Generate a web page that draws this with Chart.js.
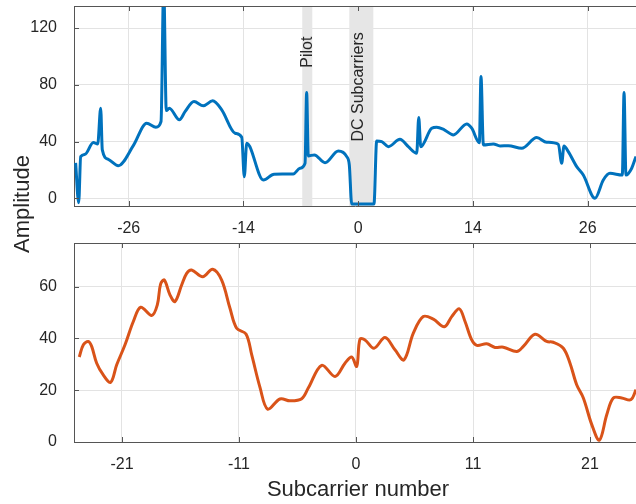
<!DOCTYPE html>
<html>
<head>
<meta charset="utf-8">
<script src="https://cdn.jsdelivr.net/npm/chart.js@4.4.1/dist/chart.umd.min.js"></script>
<style>
  html, body { margin: 0; padding: 0; background: #fff; }
  #wrap { position: relative; width: 636px; height: 504px; overflow: hidden; }
  #wrap canvas { position: absolute; left: 0; top: 0; }
</style>
</head>
<body>
<div id="wrap">
  <canvas id="topChart" width="636" height="504"></canvas>
  <canvas id="bottomChart" width="636" height="504"></canvas>
</div>
<script>
// top panel: 64-subcarrier amplitude with pilot / DC regions
const topX = [-29.55, -29.23, -29.02, -28.57, -27.7, -27.24, -26.93, -26.76, -26.13, -25.09,
  -23.52, -22.12, -21.15, -20.62, -20.34, -20.07, -19.75, -18.7, -18.11, -17.17,
  -16.2, -15.22, -14.27, -12.88, -12.18, -11.91, -11.66, -9.92, -8.8, -6.79,
  -6.09, -5.56, -5.39, -5.22, -4.59, -3.47, -2.08, -1.2, -0.93, -0.68,
  1.65, 1.93, 2.46, 3.15, 4.37, 5.24, 6.12, 6.33, 6.54, 7.69,
  8.2, 9.0, 9.95, 11.35, 11.87, 12.67, 12.84, 13.09, 14.13, 14.83,
  15.7, 17.1, 18.67, 19.71, 20.93, 21.28, 21.52, 21.97, 22.85, 23.54,
  24.76, 25.63, 26.33, 27.62, 27.8, 28.0, 28.6, 29.05, 29.6];
const topY = [25, -3.1, 29.4, 31, 39.3, 38.3, 63.5, 34.1, 27.5, 23,
  37.1, 52.9, 50.1, 54.1, 150, 61.8, 63.5, 55.3, 61.1, 68.2,
  65.2, 68.7, 62.3, 45.9, 43.1, 15.2, 38.8, 12.9, 17.0, 17.2,
  21.2, 24.7, 74.5, 29.9, 30.6, 25.1, 33.4, 29.4, 23.5, -4,
  -4, 40.4, 40, 36.4, 41.6, 36.4, 31.8, 56.9, 36.4, 49.4,
  50.1, 48.3, 44.7, 52.4, 49.4, 39.2, 85.8, 37.6, 38.3, 36.9,
  37.1, 35.3, 42.8, 39.5, 38.1, 24.7, 36.9, 32.9, 22.3, 16.4,
  0, 12.9, 17.6, 16.4, 74.5, 16.4, 21.2, 29.4, 36];
const topTickPos = [-24, -12, 0, 12, 24];
const topTickLabels = ['-26', '-14', '0', '14', '26'];
const topYTicks = [0, 40, 80, 120];

const bandRanges = [[-5.85, -4.8], [-0.93, 1.58]];
const bandLabels = ['Pilot', 'DC Subcarriers'];
const bandLabelX = [-5.33, 0];
const bandLabelY = [92, 40];

// bottom panel: 52 data subcarriers
const botX = [-23.65, -23.3, -22.88, -22.59, -22.16, -21.6, -20.97, -20.45, -19.74, -19.03,
  -18.4, -17.46, -16.98, -16.7, -16.38, -15.9, -15.47, -14.9, -14.47, -14.05,
  -13.1, -12.25, -11.48, -10.77, -10.2, -9.4, -8.91, -8.2, -7.55, -6.5,
  -5.64, -4.64, -4.08, -2.93, -1.79, -0.94, -0.37, 0.06, 0.34, 0.77,
  1.54, 2.48, 3.33, 4.1, 4.9, 5.75, 6.61, 7.55, 8.18, 8.83,
  9.32, 9.89, 10.32, 11.17, 11.88, 12.59, 13.74, 14.3, 15.3, 16.3,
  16.86, 17.72, 18.29, 18.86, 19.43, 20.15, 20.8, 21.43, 21.99, 22.71,
  23.48, 23.93, 24.4];
const botY = [32.8, 37.5, 38.8, 36.9, 30.4, 25.9, 23, 29.8, 37.5, 46.5,
  52, 48.8, 52.9, 60.9, 62.5, 56.8, 54.2, 60.6, 65.1, 66.4,
  63.8, 66.7, 62.5, 51.6, 43.9, 41.7, 33.6, 21, 12.7, 16.6,
  15.9, 16.7, 20.8, 29.6, 25.3, 30.4, 32.8, 29.2, 39.7, 39.4,
  36.2, 40.3, 35.6, 31.7, 42, 48.4, 47.4, 44.5, 48.4, 51.4,
  46.5, 39.4, 37.3, 37.9, 36.5, 36.6, 34.9, 36.9, 41.6, 38.8,
  38.5, 36.2, 30.4, 22.1, 17, 6.7, 0.7, 10.5, 17, 17,
  16.3, 20.2, 25];
const botTickPos = [-20, -10, 0, 10, 20];
const botTickLabels = ['-21', '-11', '0', '11', '21'];
const botYTicks = [0, 20, 40, 60];

const FONT = "'Liberation Sans', Arial, Helvetica, sans-serif";
const TEXT = '#262626';
const GRID = '#e3e3e3';
const AXIS = '#555555';
Chart.defaults.font.family = FONT;
Chart.defaults.color = TEXT;

const frame = {
  id: 'frame',
  afterDraw(chart) {
    const { ctx, chartArea: a, scales: { x, y } } = chart;
    ctx.save();
    ctx.strokeStyle = AXIS;
    ctx.lineWidth = 1;
    ctx.beginPath();
    ctx.moveTo(a.left, Math.round(a.top) + 0.5);
    ctx.lineTo(a.right, Math.round(a.top) + 0.5);
    x.ticks.forEach(t => {
      const px = Math.round(x.getPixelForValue(t.value)) + 0.5;
      ctx.moveTo(px, a.bottom); ctx.lineTo(px, a.bottom - 5);
      ctx.moveTo(px, a.top); ctx.lineTo(px, a.top + 5);
    });
    y.ticks.forEach(t => {
      const py = Math.round(y.getPixelForValue(t.value)) + 0.5;
      ctx.moveTo(a.left, py); ctx.lineTo(a.left + 5, py);
    });
    ctx.stroke();
    ctx.restore();
  }
};

const bands = {
  id: 'bands',
  beforeDatasetsDraw(chart) {
    const { ctx, chartArea: a, scales: { x } } = chart;
    ctx.save();
    ctx.fillStyle = '#e6e6e6';
    bandRanges.forEach(([s, e]) => {
      const x0 = x.getPixelForValue(s), x1 = x.getPixelForValue(e);
      ctx.fillRect(x0, a.top, x1 - x0, a.bottom - a.top);
    });
    ctx.restore();
  },
  afterDatasetsDraw(chart) {
    const { ctx, scales: { x, y } } = chart;
    ctx.save();
    ctx.fillStyle = TEXT;
    ctx.font = '16px ' + FONT;
    ctx.textAlign = 'left';
    ctx.textBaseline = 'middle';
    bandLabels.forEach((txt, i) => {
      ctx.save();
      ctx.translate(x.getPixelForValue(bandLabelX[i]), y.getPixelForValue(bandLabelY[i]));
      ctx.rotate(-Math.PI / 2);
      ctx.fillText(txt, 0, 0);
      ctx.restore();
    });
    ctx.restore();
  }
};

const titles = {
  id: 'titles',
  afterDraw(chart) {
    const { ctx } = chart;
    ctx.save();
    ctx.fillStyle = TEXT;
    ctx.font = '22px ' + FONT;
    ctx.textAlign = 'center';
    ctx.textBaseline = 'middle';
    ctx.fillText('Subcarrier number', 358, 490);
    ctx.translate(23, 204);
    ctx.rotate(-Math.PI / 2);
    ctx.fillText('Amplitude', 0, 0);
    ctx.restore();
  }
};

function axisX(min, max, pos, labels) {
  return {
    type: 'linear', min: min, max: max,
    afterFit: s => { s.height = 30; s.paddingLeft = 0; s.paddingRight = 0; },
    afterBuildTicks: s => { s.ticks = pos.map(v => ({ value: v })); },
    ticks: { callback: (v, i) => labels[i], padding: 13, font: { size: 16 }, color: TEXT, maxRotation: 0, autoSkip: false },
    grid: { color: GRID, drawTicks: false },
    border: { color: AXIS }
  };
}
function axisY(min, max, vals) {
  return {
    min: min, max: max,
    afterFit: s => { s.width = 74; s.paddingTop = 0; s.paddingBottom = 0; },
    afterBuildTicks: s => { s.ticks = vals.map(v => ({ value: v })); },
    ticks: { padding: 17, font: { size: 16 }, color: TEXT },
    grid: { color: GRID, drawTicks: false },
    border: { color: AXIS }
  };
}

new Chart(document.getElementById('topChart'), {
  type: 'line',
  data: {
    datasets: [{
      data: topX.map((x, i) => ({ x: x, y: topY[i] })),
      borderColor: '#0072BD', borderWidth: 3, pointRadius: 0,
      tension: 0.4, cubicInterpolationMode: 'monotone', borderJoinStyle: 'round', clip: 0
    }]
  },
  options: {
    responsive: false, animation: false, devicePixelRatio: 1,
    layout: { padding: { top: 6, left: 0, right: 0, bottom: 268 } },
    plugins: { legend: { display: false }, tooltip: { enabled: false } },
    scales: { x: axisX(-29.72, 29.05, topTickPos, topTickLabels), y: axisY(-5.4, 135.5, topYTicks) }
  },
  plugins: [bands, frame]
});

new Chart(document.getElementById('bottomChart'), {
  type: 'line',
  data: {
    datasets: [{
      data: botX.map((x, i) => ({ x: x, y: botY[i] })),
      borderColor: '#D95319', borderWidth: 3, pointRadius: 0,
      tension: 0.35, borderJoinStyle: 'round', clip: 0
    }]
  },
  options: {
    responsive: false, animation: false, devicePixelRatio: 1,
    layout: { padding: { top: 243, left: 0, right: 0, bottom: 32 } },
    plugins: { legend: { display: false }, tooltip: { enabled: false } },
    scales: { x: axisX(-24.1, 23.93, botTickPos, botTickLabels), y: axisY(0, 76.8, botYTicks) }
  },
  plugins: [frame, titles]
});
</script>
</body>
</html>
